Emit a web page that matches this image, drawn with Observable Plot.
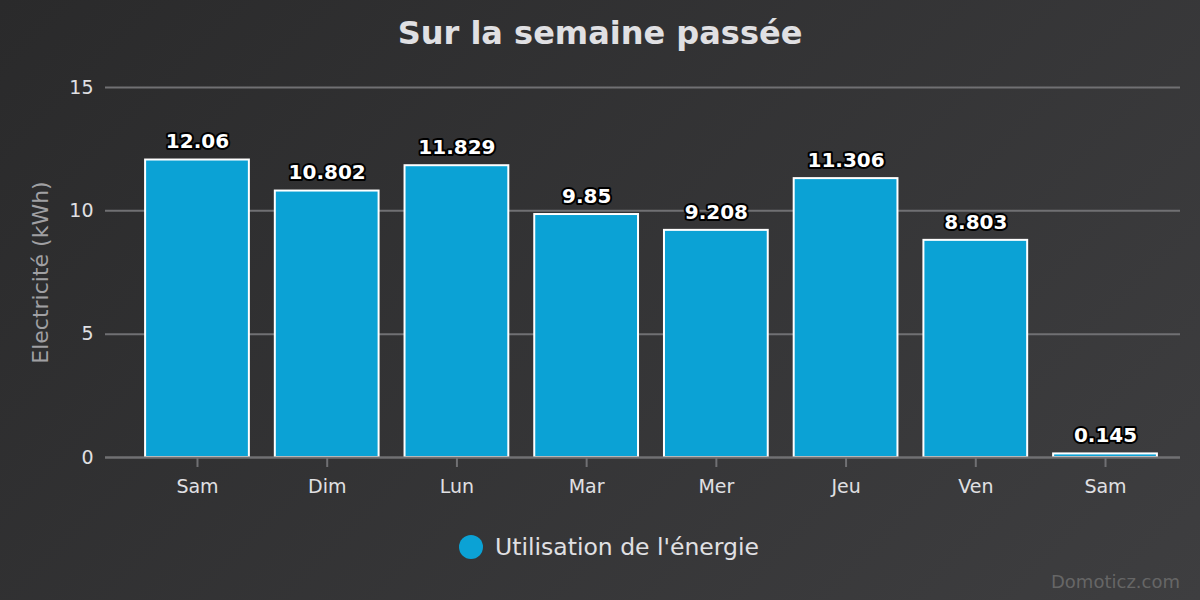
<!DOCTYPE html>
<html><head><meta charset="utf-8">
<script src="https://cdn.jsdelivr.net/npm/d3@7"></script>
<script src="https://cdn.jsdelivr.net/npm/@observablehq/plot@0.6"></script>
<style>
html,body{margin:0;padding:0;}
#wrap{position:relative;width:1200px;height:600px;overflow:hidden;
background:linear-gradient(135deg,#2a2a2b 0%,#3e3e40 100%);font-family:"DejaVu Sans",sans-serif;}
#title{position:absolute;left:0;top:14px;width:1200px;text-align:center;color:#E0E0E3;font-weight:bold;font-size:32px;}
#legend{position:absolute;left:9px;top:532px;width:1200px;text-align:center;color:#E0E0E3;font-size:23.5px;line-height:30px;}
#legend .dot{display:inline-block;width:24px;height:24px;border-radius:50%;background:#0ba2d5;vertical-align:-4px;margin-right:12px;}
#credit{position:absolute;right:20px;top:571px;color:#666;font-size:18px;}
#chart{position:absolute;left:0;top:0;}
</style></head>
<body><div id="wrap"><div id="chart"></div>
<div id="title">Sur la semaine passée</div>
<div id="legend"><span class="dot"></span>Utilisation de l'énergie</div>
<div id="credit">Domoticz.com</div></div>
<script>
const days = ["Sam","Dim","Lun","Mar","Mer","Jeu","Ven","Sam"];
const values = [12.06, 10.802, 11.829, 9.85, 9.208, 11.306, 8.803, 0.145];
const labels = ["12.06","10.802","11.829","9.85","9.208","11.306","8.803","0.145"];
const yTicks = [0,5,10,15];
const data = days.map((d,i)=>({i, day:d, v:values[i], label:labels[i]}));
const plot = Plot.plot({
  width:1200, height:600,
  marginLeft:105, marginRight:20, marginTop:87, marginBottom:143,
  style:{background:"transparent", fontFamily:"DejaVu Sans, sans-serif", color:"#E0E0E3", overflow:"visible"},
  x:{domain:d3.range(days.length), range:[145.1,1156.9], paddingInner:0.2, paddingOuter:0, round:false, label:null},
  y:{domain:[0,15], ticks:yTicks, label:null},
  marks:[
    Plot.gridY(yTicks,{stroke:"#707073", strokeOpacity:1, strokeWidth:2}),
    Plot.barY(data,{x:"i", y:"v", fill:"#0ba2d5", stroke:"white", strokeWidth:2}),
    Plot.ruleY([0],{stroke:"#707073", strokeWidth:2}),
    Plot.text(data,{x:"i", y:"v", text:"label", dy:-18, fill:"white", stroke:"black", strokeWidth:4, paintOrder:"stroke", fontWeight:"bold", fontSize:20}),
    Plot.axisX({ticks:d3.range(days.length), tickFormat:i=>days[i], tickSize:10, tickPadding:12, stroke:"#707073", strokeWidth:2, strokeOpacity:1, fontSize:19, fill:"#E0E0E3", label:null}),
    Plot.axisY({ticks:yTicks, tickSize:0, tickPadding:12, fontSize:19, fill:"#E0E0E3", label:null}),
    Plot.text(["Electricité (kWh)"],{frameAnchor:"left", dx:-65, rotate:-90, textAnchor:"middle", fill:"#A0A0A3", fontSize:22})
  ]
});
document.getElementById("chart").appendChild(plot);
</script></body></html>
